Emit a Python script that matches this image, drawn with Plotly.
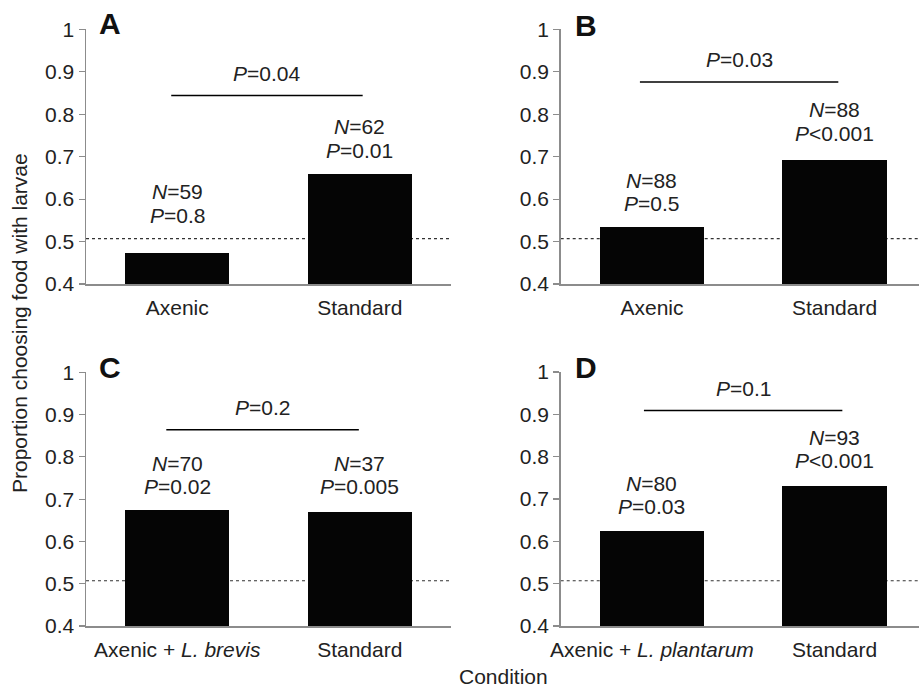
import plotly.graph_objects as go

W, H = 919, 689

# ---------------- data ----------------
panel_letters = ["A", "B", "C", "D"]
categories_A = ["Axenic", "Standard"]
categories_B = ["Axenic", "Standard"]
categories_C = ["Axenic + <i>L. brevis</i>", "Standard"]
categories_D = ["Axenic + <i>L. plantarum</i>", "Standard"]
values_A = [0.474, 0.660]
values_B = [0.534, 0.692]
values_C = [0.674, 0.670]
values_D = [0.624, 0.731]
n_A = [59, 62]
n_B = [88, 88]
n_C = [70, 37]
n_D = [80, 93]
p_A = ["=0.8", "=0.01"]
p_B = ["=0.5", "<0.001"]
p_C = ["=0.02", "=0.005"]
p_D = ["=0.03", "<0.001"]
between_p = ["=0.04", "=0.03", "=0.2", "=0.1"]
bracket_level = [0.844, 0.876, 0.864, 0.909]
chance_level = 0.507
y_ticks = [0.4, 0.5, 0.6, 0.7, 0.8, 0.9, 1.0]
y_ticktext = ["0.4", "0.5", "0.6", "0.7", "0.8", "0.9", "1"]

# ---------------- style / layout ----------------
FONT = "Liberation Sans, Arial, sans-serif"
TXT = "#222222"
AX = "#8c8c8c"
FS = 21
bar_width = 0.57
label_gap = [[0.088, 0.055], [0.056, 0.063], [0.055, 0.060], [0.058, 0.060]]
line_gap = 0.055
bracket_x = [[-0.033, 1.016], [-0.066, 1.021], [-0.06, 0.995], [-0.044, 1.043]]
bracket_text_gap = 0.052

# pixel boxes of each plotting area: (x0, x1, ytop, ybottom)
boxes = [(86, 451, 29.3, 284), (560.7, 919, 29.3, 284),
         (86, 451, 372.3, 626), (560.7, 919, 372.0, 626)]
xranges = [[-0.5, 1.5], [-0.5, 1.463], [-0.5, 1.5], [-0.5, 1.463]]
letter_pos = [(97, 24), (573, 26), (97, 367), (573, 367)]

cats = [categories_A, categories_B, categories_C, categories_D]
vals = [values_A, values_B, values_C, values_D]
ns = [n_A, n_B, n_C, n_D]
ps = [p_A, p_B, p_C, p_D]

fig = go.Figure()
annotations = []
shapes = []

for i in range(4):
    sfx = "" if i == 0 else str(i + 1)
    xa, ya = "x" + sfx, "y" + sfx
    x0, x1, yt, yb = boxes[i]
    fig.add_trace(go.Bar(
        x=[0, 1], y=vals[i], base=0, width=bar_width,
        marker=dict(color="#050505", line=dict(width=0)),
        xaxis=xa, yaxis=ya, showlegend=False, hoverinfo="skip"))
    fig.layout["xaxis" + sfx] = dict(
        domain=[x0 / W, x1 / W], range=xranges[i], anchor=ya, automargin=False,
        showgrid=False, zeroline=False, showline=True, linecolor=AX, linewidth=1.5,
        tickmode="array", tickvals=[0, 1], ticktext=cats[i], ticks="",
        ticklabelstandoff=4,
        tickfont=dict(family=FONT, size=FS, color=TXT), fixedrange=True)
    fig.layout["yaxis" + sfx] = dict(
        domain=[1 - yb / H, 1 - yt / H], range=[0.4, 1.0], anchor=xa, automargin=False,
        showgrid=False, zeroline=False, showline=True, linecolor=AX, linewidth=1.5,
        tickmode="array", tickvals=y_ticks, ticktext=y_ticktext,
        ticks="outside", ticklen=6, tickwidth=1.2, tickcolor=AX,
        tickfont=dict(family=FONT, size=FS, color=TXT), fixedrange=True)

    # chance line
    shapes.append(dict(type="line", xref=xa + " domain", yref=ya, x0=0, x1=1,
                       y0=chance_level, y1=chance_level, layer="below",
                       line=dict(color="#333333", width=1.1, dash="3px,3px")))
    # bracket
    bx = bracket_x[i]
    shapes.append(dict(type="line", xref=xa, yref=ya, x0=bx[0], x1=bx[1],
                       y0=bracket_level[i], y1=bracket_level[i],
                       line=dict(color="#000000", width=1.5)))
    annotations.append(dict(xref=xa, yref=ya, x=(bx[0] + bx[1]) / 2,
                            y=bracket_level[i] + bracket_text_gap,
                            text="<i>P</i>" + between_p[i], showarrow=False,
                            xanchor="center", yanchor="middle",
                            font=dict(family=FONT, size=FS, color=TXT)))
    # per-bar labels
    for j in range(2):
        yp = vals[i][j] + label_gap[i][j]
        annotations.append(dict(xref=xa, yref=ya, x=j, y=yp,
                                text="<i>P</i>" + ps[i][j], showarrow=False,
                                xanchor="center", yanchor="middle",
                                font=dict(family=FONT, size=FS, color=TXT)))
        annotations.append(dict(xref=xa, yref=ya, x=j, y=yp + line_gap,
                                text="<i>N</i>=" + str(ns[i][j]), showarrow=False,
                                xanchor="center", yanchor="middle",
                                font=dict(family=FONT, size=FS, color=TXT)))
    # panel letter
    lx, ly = letter_pos[i]
    annotations.append(dict(xref="paper", yref="paper", x=lx / W, y=1 - ly / H,
                            text="<b>" + panel_letters[i] + "</b>", showarrow=False,
                            xanchor="left", yanchor="middle",
                            font=dict(family=FONT, size=30, color="#111111")))

# shared titles
annotations.append(dict(xref="paper", yref="paper", x=19 / W, y=1 - 323 / H,
                        text="Proportion choosing food with larvae", textangle=-90,
                        showarrow=False, xanchor="center", yanchor="middle",
                        font=dict(family=FONT, size=FS, color=TXT)))
annotations.append(dict(xref="paper", yref="paper", x=503 / W, y=0.0,
                        text="Condition", showarrow=False, borderpad=0,
                        xanchor="center", yanchor="bottom",
                        font=dict(family=FONT, size=FS, color=TXT)))

fig.update_layout(width=W, height=H, margin=dict(l=0, r=0, t=0, b=0),
                  paper_bgcolor="white", plot_bgcolor="white",
                  annotations=annotations, shapes=shapes, bargap=0)
fig.write_html("out.html",
               config={"displayModeBar": False, "staticPlot": True},
               post_script="document.body.style.margin='0px';"
                           "document.body.style.overflow='hidden';")
